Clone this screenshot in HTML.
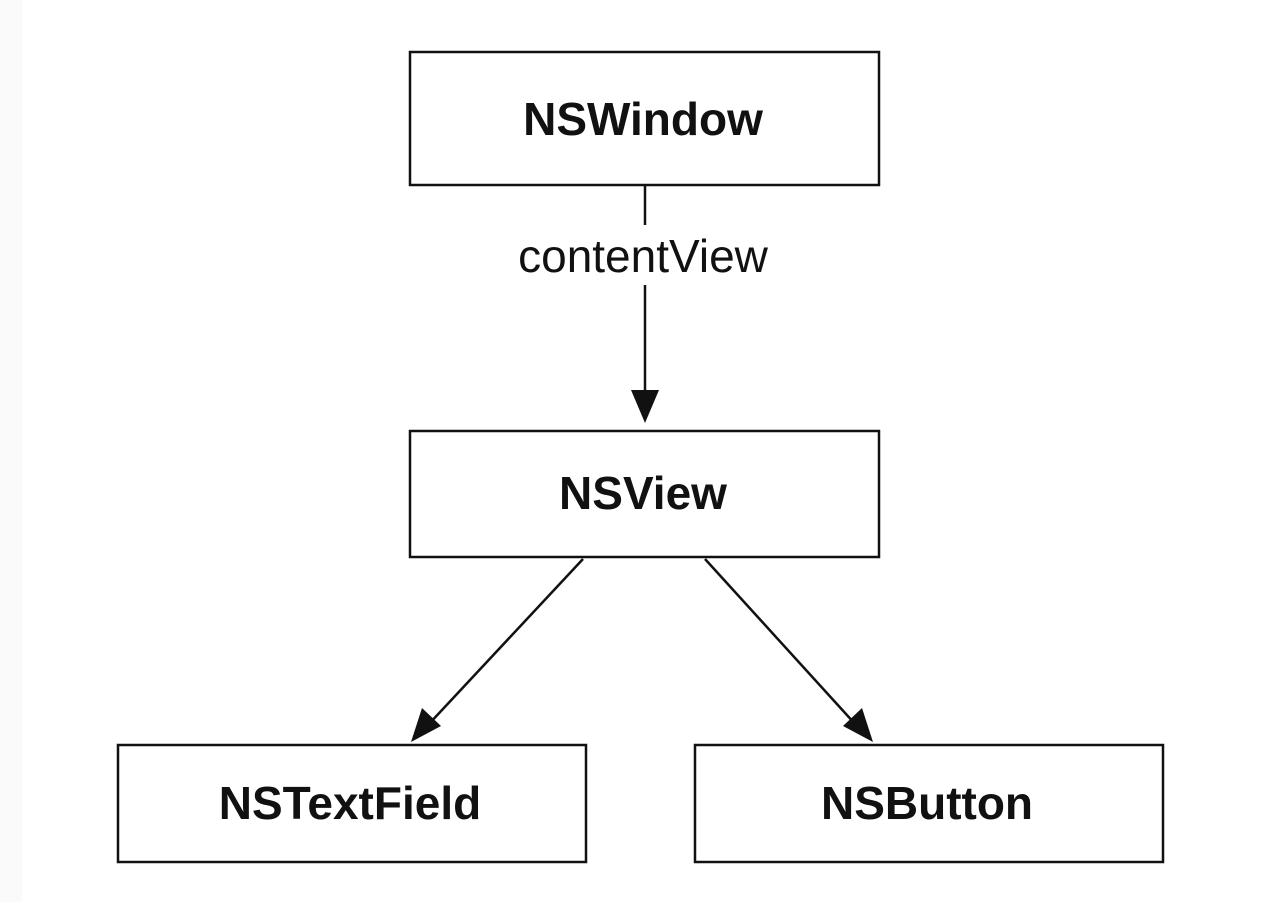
<!DOCTYPE html>
<html><head><style>
html,body{margin:0;padding:0;background:#fff;}
svg{display:block;}
</style></head><body>
<svg width="1286" height="902" viewBox="0 0 1286 902" xmlns="http://www.w3.org/2000/svg">
<rect x="0" y="0" width="22" height="902" fill="#fafafa"/>
<g fill="#fff" stroke="#111" stroke-width="2.5">
<rect x="410" y="52" width="469" height="133"/>
<rect x="410" y="431" width="469" height="126"/>
<rect x="118" y="745" width="468" height="117"/>
<rect x="695" y="745" width="468" height="117"/>
</g>
<g stroke="#111" stroke-width="2.5" fill="none">
<line x1="645" y1="186" x2="645" y2="225"/>
<line x1="645" y1="285" x2="645" y2="395"/>
<line x1="583" y1="559" x2="428" y2="725"/>
<line x1="705" y1="559" x2="856" y2="725"/>
</g>
<g fill="#111">
<polygon points="631,390 659,390 645,423"/>
<polygon points="411,742 422,708 441,726"/>
<polygon points="873,742 843,726 862,708"/>
</g>
<g font-family="Liberation Sans, Arial, sans-serif" font-weight="bold" font-size="46" fill="#111" text-anchor="middle">
<text x="643" y="135">NSWindow</text>
<text x="643" y="509">NSView</text>
<text x="350" y="819">NSTextField</text>
<text x="927" y="819">NSButton</text>
</g>
<text x="643" y="272" font-family="Liberation Sans, Arial, sans-serif" font-size="46" fill="#111" text-anchor="middle">contentView</text>
</svg>
</body></html>
